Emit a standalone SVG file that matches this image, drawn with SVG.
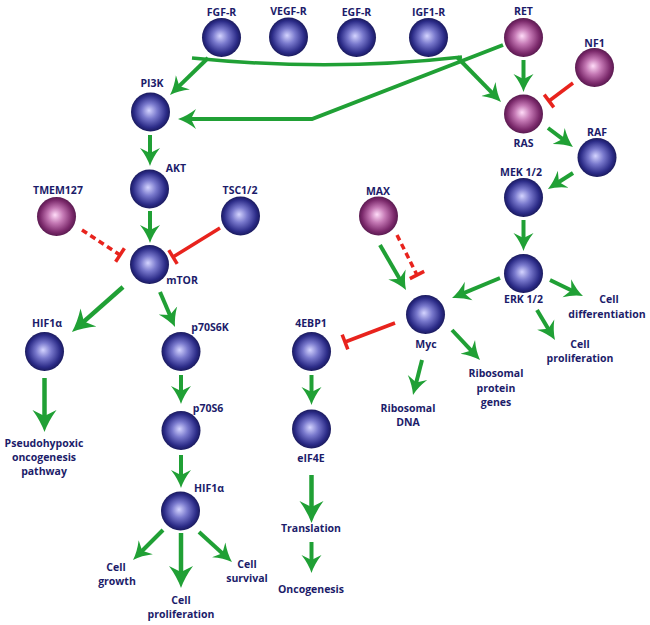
<svg xmlns="http://www.w3.org/2000/svg" width="650" height="625" viewBox="0 0 650 625">
<defs>
<radialGradient id="gb" cx="50%" cy="50%" r="50%" fx="46%" fy="46%">
<stop offset="0" stop-color="#d4d4ff"/>
<stop offset="0.4" stop-color="#7878cc"/>
<stop offset="0.82" stop-color="#2c2c88"/>
<stop offset="1" stop-color="#1a1a5e"/>
</radialGradient>
<radialGradient id="gp" cx="50%" cy="50%" r="50%" fx="46%" fy="46%">
<stop offset="0" stop-color="#ffdcf8"/>
<stop offset="0.4" stop-color="#c478b4"/>
<stop offset="0.82" stop-color="#7c2a6c"/>
<stop offset="1" stop-color="#5a1a50"/>
</radialGradient>
<marker id="ah" markerUnits="userSpaceOnUse" viewBox="0 0 18 22" markerWidth="18" markerHeight="22" refX="6" refY="11" orient="auto">
<path d="M0,1 Q9,8 18,11 Q9,14 0,21 L5,11 Z" fill="#20a035"/>
</marker>
<marker id="ahb" markerUnits="userSpaceOnUse" viewBox="0 0 22 26" markerWidth="22" markerHeight="26" refX="7" refY="13" orient="auto">
<path d="M0,1 Q11,9 22,13 Q11,17 0,25 L6,13 Z" fill="#20a035"/>
</marker>
<marker id="tee" markerUnits="userSpaceOnUse" viewBox="-3 -10 6 20" markerWidth="6" markerHeight="20" refX="0" refY="0" orient="auto">
<line x1="0" y1="-8" x2="0" y2="8" stroke="#e8231d" stroke-width="3.5"/>
</marker>
</defs>
<style>
.b{fill:url(#gb)}
.p{fill:url(#gp)}
text{font-family:"Open Sans","Noto Sans","Liberation Sans",sans-serif;font-weight:700;font-size:10.5px;fill:#1c1c6a;text-anchor:middle}
.g{stroke:#20a035;stroke-width:4;fill:none;marker-end:url(#ah)}
.gb{stroke:#20a035;stroke-width:4.5;fill:none;marker-end:url(#ahb)}
.gl{stroke:#20a035;stroke-width:3.5;fill:none}
.r{stroke:#e8231d;stroke-width:3.5;fill:none;marker-end:url(#tee)}
.rd{stroke:#e8231d;stroke-width:3.5;fill:none;stroke-dasharray:6 4;marker-end:url(#tee)}
</style>
<g id="connectors">
<path class="gl" d="M192,58 Q330,72 462,57"/>
<line class="g" x1="208" y1="58" x2="178.6" y2="86.6"/>
<line class="g" x1="457" y1="57" x2="492.6" y2="93.4"/>
<path class="g" d="M503,45 L312,119 L190,119"/>
<line class="g" x1="523.5" y1="60" x2="523.5" y2="80"/>
<line class="r" x1="573" y1="83" x2="549" y2="101"/>
<line class="g" x1="548" y1="128" x2="563.4" y2="139.7"/>
<line class="g" x1="573" y1="173" x2="558.1" y2="182.5"/>
<line class="g" x1="523.5" y1="220" x2="523.5" y2="239"/>
<line class="g" x1="500" y1="278" x2="463.1" y2="293.4"/>
<line class="g" x1="550" y1="280" x2="572.2" y2="290.8"/>
<line class="g" x1="537" y1="310" x2="548.8" y2="329.7"/>
<line class="g" x1="380" y1="245" x2="400" y2="279.6"/>
<line class="rd" x1="397" y1="235" x2="417" y2="275"/>
<line class="r" x1="395" y1="323" x2="345" y2="342"/>
<line class="g" x1="422" y1="360" x2="416" y2="383.4"/>
<line class="g" x1="452" y1="330" x2="471.8" y2="351.2"/>
<line class="g" x1="150" y1="135" x2="150" y2="154"/>
<line class="g" x1="150" y1="211" x2="150" y2="231"/>
<line class="rd" x1="82" y1="230" x2="120" y2="255"/>
<line class="r" x1="220" y1="228" x2="173" y2="257"/>
<line class="gb" x1="123" y1="287" x2="83.2" y2="322.1"/>
<line class="g" x1="160" y1="292" x2="170.3" y2="316"/>
<line class="gb" x1="44.5" y1="378" x2="44.5" y2="417"/>
<line class="g" x1="181" y1="375" x2="181" y2="392"/>
<line class="g" x1="181" y1="455" x2="181" y2="476"/>
<line class="g" x1="163" y1="530" x2="141.5" y2="551.5"/>
<line class="gb" x1="181" y1="533" x2="181" y2="573"/>
<line class="g" x1="199" y1="532" x2="223.1" y2="553.9"/>
<line class="g" x1="311.5" y1="375" x2="311.5" y2="393"/>
<line class="gb" x1="311.5" y1="475" x2="311.5" y2="508"/>
<line class="g" x1="311.5" y1="542" x2="311.5" y2="561"/>
</g>
<g id="fgfr"><circle class="b" cx="221.5" cy="37.5" r="19.5"/><text x="221.5" y="16">FGF-R</text></g>
<g id="vegfr"><circle class="b" cx="288.5" cy="37" r="19.5"/><text x="288.5" y="15">VEGF-R</text></g>
<g id="egfr"><circle class="b" cx="356.5" cy="37.5" r="19.5"/><text x="356.5" y="16">EGF-R</text></g>
<g id="igf1r"><circle class="b" cx="428.5" cy="37.5" r="19.5"/><text x="428.5" y="16">IGF1-R</text></g>
<g id="ret"><circle class="p" cx="523.5" cy="37.5" r="19.5"/><text x="523.5" y="15">RET</text></g>
<g id="nf1"><circle class="p" cx="594.5" cy="67.5" r="19.5"/><text x="594.5" y="47">NF1</text></g>
<g id="ras"><circle class="p" cx="523.5" cy="114" r="19.5"/><text x="523.5" y="147">RAS</text></g>
<g id="raf"><circle class="b" cx="597" cy="157.5" r="19.5"/><text x="597" y="136">RAF</text></g>
<g id="mek"><circle class="b" cx="523.5" cy="197.5" r="19.5"/><text x="521" y="176">MEK 1/2</text></g>
<g id="erk"><circle class="b" cx="523.5" cy="273.5" r="19.5"/><text x="523.5" y="303">ERK 1/2</text></g>
<g id="cell-diff"><text x="609" y="303">Cell</text><text x="607" y="318">differentiation</text></g>
<g id="cell-prol-erk"><text x="580" y="348">Cell</text><text x="580" y="362">proliferation</text></g>
<g id="max"><circle class="p" cx="378.5" cy="216" r="19.5"/><text x="378" y="195">MAX</text></g>
<g id="myc"><circle class="b" cx="425.5" cy="314.5" r="19.5"/><text x="426" y="348">Myc</text></g>
<g id="ribo-dna"><text x="408" y="412">Ribosomal</text><text x="408" y="426">DNA</text></g>
<g id="ribo-prot"><text x="496" y="377">Ribosomal</text><text x="496" y="392">protein</text><text x="496" y="406">genes</text></g>
<g id="4ebp1"><circle class="b" cx="311.5" cy="351.5" r="19.5"/><text x="311" y="327">4EBP1</text></g>
<g id="eif4e"><circle class="b" cx="311.5" cy="429" r="19.5"/><text x="311" y="462">eIF4E</text></g>
<g id="translation"><text x="311" y="532">Translation</text></g>
<g id="oncogenesis"><text x="311" y="593">Oncogenesis</text></g>
<g id="pi3k"><circle class="b" cx="150.5" cy="112" r="19.5"/><text x="152" y="87">PI3K</text></g>
<g id="akt"><circle class="b" cx="149.5" cy="189" r="19.5"/><text x="176" y="172">AKT</text></g>
<g id="tmem127"><circle class="p" cx="56.5" cy="216.5" r="19.5"/><text x="58" y="194">TMEM127</text></g>
<g id="tsc12"><circle class="b" cx="240.5" cy="216" r="19.5"/><text x="240" y="194">TSC1/2</text></g>
<g id="mtor"><circle class="b" cx="149.5" cy="264.5" r="19.5"/><text x="182" y="284">mTOR</text></g>
<g id="hif1a-left"><circle class="b" cx="44.5" cy="351.5" r="19.5"/><text x="47" y="327">HIF1α</text></g>
<g id="pseudo"><text x="44" y="447">Pseudohypoxic</text><text x="44" y="461">oncogenesis</text><text x="44" y="475">pathway</text></g>
<g id="p70s6k"><circle class="b" cx="181" cy="351.5" r="19.5"/><text x="210" y="331">p70S6K</text></g>
<g id="p70s6"><circle class="b" cx="181" cy="430.5" r="19.5"/><text x="208" y="412">p70S6</text></g>
<g id="hif1a-low"><circle class="b" cx="180.5" cy="511" r="19.5"/><text x="209" y="492">HIF1α</text></g>
<g id="cell-growth"><text x="116" y="571">Cell</text><text x="117" y="585">growth</text></g>
<g id="cell-prol"><text x="181" y="604">Cell</text><text x="181" y="618">proliferation</text></g>
<g id="cell-surv"><text x="247" y="568">Cell</text><text x="247" y="582">survival</text></g>
</svg>
